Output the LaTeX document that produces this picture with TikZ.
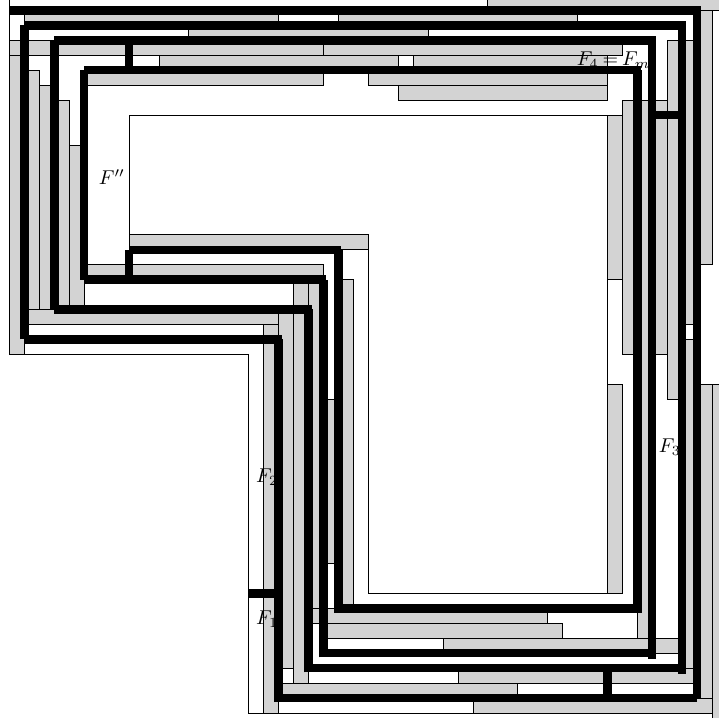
\documentclass[tikz,border=0pt]{standalone}
\definecolor{cellgray}{RGB}{211,211,211}
\tikzset{
  cell/.style={draw=black,fill=cellgray,line width=0.4pt},
  thin frame/.style={draw=black,line width=0.4pt},
  spiral/.style={draw=black,line width=4.15pt,line cap=butt},
  lbl/.style={inner sep=0pt,outer sep=0pt}
}
\begin{document}
\begin{tikzpicture}[x=7.475pt,y=-7.475pt]
\useasboundingbox (-0.6355,-0.702) rectangle (47.46,47.26);
\clip (-0.6355,-0.702) rectangle (47.46,47.26);
% thin outlines
\draw[thin frame] (0,-2)--(0,23)--(16,23)--(16,47)--(31,47);
\draw[thin frame] (8,7)--(40,7)--(40,39)--(24,39)--(24,15)--(8,15)--cycle;
% grey cells
\foreach \a/\b/\c/\d in {
 32/-2/49/0,
 1/0/18/1, 22/0/38/1,
 12/1/28/2,
 0/2/21/3, 21/2/41/3,
 10/3/26/4, 27/3/40/4,
 5/4/21/5, 24/4/40/5,
 26/5/40/6,
 8/15/24/16,
 5/17/21/18,
 % left columns
 0/3/1/23,
 1/4/2/20, 2/5/3/20, 3/6/4/20, 4/9/5/20,
 1/20/18/21,
 % lower-left columns
 17/21/18/47, 18/20/19/44, 19/18/20/45, 20/18/21/41,
 21/26/22/37, 22/18/23/40,
 % bottom rows
 20/40/36/41, 21/41/37/42, 29/42/45/43,
 30/44/46/45, 18/45/34/46, 31/46/47/47,
 % right columns
 40/7/41/18, 40/25/41/39,
 41/6/44/23, 42/6/43/42,
 44/2/45/26, 45/2/46/21, 45/22/46/44,
 46/0/47/17, 46/25/47/46, 47/25/49/49}
 {\draw[cell] (\a,\b) rectangle (\c,\d);}
% labels
\node[lbl] (fpp) at (6.85,11.14) {$F''$};
\node[lbl] (f1) at (17.23,40.7) {$F_1$};
\node[lbl] (f2) at (17.23,31.2) {$F_2$};
\node[lbl] (f3) at (44.17,29.2) {$F_3$};
\node[lbl] (f4) at (40.4,3.3) {$\thickmuskip=3.5mu F_4=F_m$};
% spiral, each stretch drawn apart
\foreach \a/\b/\c/\d in {
 0/0/46.27/0, 46/0/46/46, 46/46/18/46, 18/46.27/18/22, 18.2/22/1/22, 1/22/1/1,
 1/1/45.27/1, 45/1/45/44.4, 45/44/20/44, 20/44.27/20/20, 20.23/20/3/20, 3/20/3/2,
 3/2/43.27/2, 43/2/43/43.38, 43/43/21/43, 21/43.27/21/18, 21.2/18/5/18, 5/18/5/4,
 5/4/42.27/4, 42/4/42/40.33, 42/40/22/40, 22/40.27/22/16, 22.2/16/8/16, 8/16/8/18,
 8/2/8/4, 43/7/45/7, 16/39/18/39, 40/44/40/46}
 {\draw[spiral] (\a,\b)--(\c,\d);}
\end{tikzpicture}
\end{document}
